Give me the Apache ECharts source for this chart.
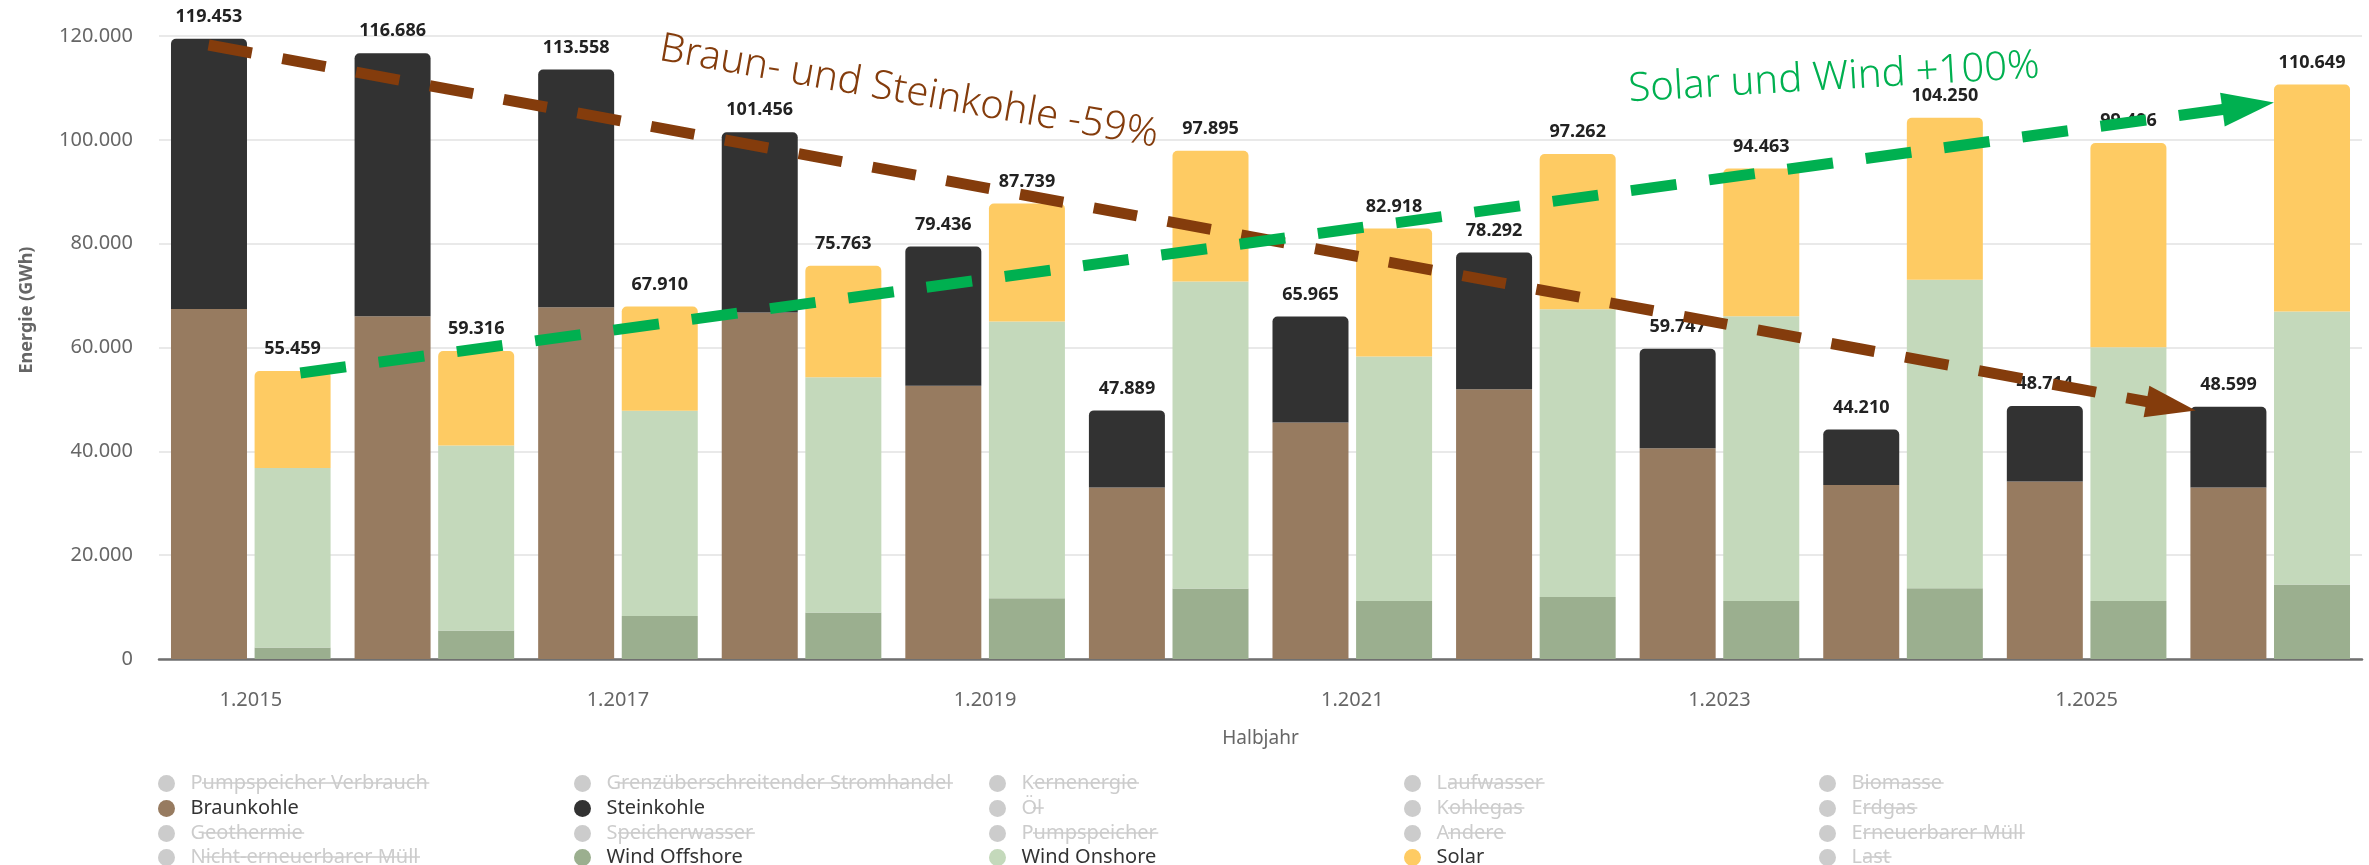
<!DOCTYPE html>
<html>
<head>
<meta charset="utf-8">
<title>Kohle vs. Solar und Wind</title>
<script src="https://cdn.jsdelivr.net/npm/echarts@6/dist/echarts.min.js"></script>
<style>
  html, body { margin: 0; padding: 0; background: #fff; }
  #main { width: 2369px; height: 865px; }
</style>
</head>
<body>
<div id="main"></div>
<script>
// Daten (GWh je Halbjahr)
var categories = ['1.2015', '1.2016', '1.2017', '1.2018', '1.2019', '1.2020',
                  '1.2021', '1.2022', '1.2023', '1.2024', '1.2025', '1.2026'];
var braunkohle   = [67430, 66040, 67770, 66740, 52640, 33030, 45550, 51950, 40600, 33510, 34210, 33030];
var steinkohle   = [52023, 50646, 45788, 34716, 26796, 14859, 20415, 26342, 19147, 10700, 14504, 15569];
var windOffshore = [2215, 5510, 8260, 8960, 11710, 13560, 11150, 11920, 11150, 13640, 11150, 14330];
var windOnshore  = [34595, 35630, 39560, 45330, 53310, 59170, 47130, 55430, 54890, 59430, 48920, 52620];
var solar        = [18649, 18176, 20090, 21473, 22719, 25165, 24638, 29912, 28423, 31180, 39336, 43699];

// Legende, spaltenweise
var legendCols = [
   ['Pumpspeicher Verbrauch', 'Braunkohle', 'Geothermie', 'Nicht-erneuerbarer Müll'],
   ['Grenzüberschreitender Stromhandel', 'Steinkohle', 'Speicherwasser', 'Wind Offshore'],
   ['Kernenergie', 'Öl', 'Pumpspeicher', 'Wind Onshore'],
   ['Laufwasser', 'Kohlegas', 'Andere', 'Solar'],
   ['Biomasse', 'Erdgas', 'Erneuerbarer Müll', 'Last']
];
var activeNames = ['Braunkohle', 'Steinkohle', 'Wind Offshore', 'Wind Onshore', 'Solar'];

// Pfeile (x in Kategorie-Einheiten, y in GWh)
var brownArrowX = [-0.23, 10.46];
var brownArrowY = [118260, 48730];
var greenArrowX = [0.27, 10.88];
var greenArrowY = [55080, 106510];

var FONT = '"Noto Sans", "DejaVu Sans", sans-serif';

function fmt (v) {
   return String(Math.round(v)).replace(/\B(?=(\d{3})+(?!\d))/g, '.');
}

var myChart = echarts.init(document.getElementById('main'));

// Legenden-Layout: eine Legende pro Zelle
var legendCenters = [177, 593, 1008, 1423, 1838];
var rowCenters = [782, 807, 832, 856];
var selectedMap = {};
legendCols.forEach(function (col) {
   col.forEach(function (n) { selectedMap[n] = activeNames.indexOf(n) >= 0; });
});
var legends = [];
legendCols.forEach(function (col, k) {
   col.forEach(function (n, j) {
      legends.push({
         type: 'plain',
         orient: 'horizontal',
         left: legendCenters[k] - 19,
         top: rowCenters[j] - 8.5,
         width: 400,
         height: 40,
         padding: 0,
         itemWidth: 38,
         itemHeight: 17,
         icon: 'circle',
         data: [n],
         selected: selectedMap,
         inactiveColor: '#cccccc',
         textStyle: { fontSize: 20, color: '#333', fontFamily: FONT }
      });
   });
});

// Durchgestrichene inaktive Einträge
function buildStrikes () {
   var measure = document.createElement('canvas').getContext('2d');
   measure.font = 'normal normal 20px ' + FONT;
   var strikes = [];
   legendCols.forEach(function (col, k) {
      col.forEach(function (n, j) {
         if (selectedMap[n]) return;
         var x0 = legendCenters[k] - 19 + 44;
         var w = measure.measureText(n).width - 10;
         var y = rowCenters[j] + 1;
         strikes.push({
            type: 'line', id: 'strike' + k + '_' + j, silent: true,
            shape: { x1: x0, y1: y, x2: x0 + w, y2: y },
            style: { stroke: '#cccccc', lineWidth: 1.6 }
         });
      });
   });
   return strikes;
}

// Dummy-Serien für die ausgeblendeten Einträge
var dummySeries = [];
legendCols.forEach(function (col) {
   col.forEach(function (n) {
      if (activeNames.indexOf(n) < 0) {
         dummySeries.push({ name: n, type: 'line', data: [], color: '#cccccc' });
      }
   });
});

var coalTotal = braunkohle.map(function (v, i) { return v + steinkohle[i]; });
var eeTotal = solar.map(function (v, i) { return v + windOffshore[i] + windOnshore[i]; });

var topLabel = {
   show: true,
   position: 'top',
   distance: 13,
   fontSize: 18,
   fontWeight: 'bold',
   color: '#222',
   fontFamily: FONT
};

function arrowSeries (xs, ys, color, curve, dash, size) {
   return {
      type: 'line',
      xAxisIndex: 1,
      yAxisIndex: 0,
      data: [],
      z: 10,
      silent: true,
      markLine: {
         silent: true,
         animation: false,
         symbol: ['none', 'triangle'],
         symbolSize: size,
         label: { show: false },
         emphasis: { disabled: true },
         lineStyle: { color: color, width: 11, type: dash, curveness: curve, opacity: 1 },
         itemStyle: { color: color },
         data: [[{ coord: [xs[0], ys[0]] }, { coord: [xs[1], ys[1]] }]]
      }
   };
}

var option = {
   animation: false,
   textStyle: { fontFamily: FONT },
   legend: legends,
   grid: { left: 159, right: 7, top: 36, bottom: 206, outerBoundsMode: 'none' },
   xAxis: [
      {
         type: 'category',
         data: categories,
         name: 'Halbjahr',
         nameLocation: 'middle',
         nameGap: 70,
         nameTextStyle: { fontSize: 19, color: '#666' },
         axisLine: { show: true, lineStyle: { color: '#707070', width: 2.5 } },
         axisTick: { show: false },
         axisLabel: { interval: 1, fontSize: 20, color: '#666', margin: 31 },
         splitLine: { show: false }
      },
      { type: 'value', min: -0.5, max: 11.5, show: false }
   ],
   yAxis: {
      type: 'value',
      min: 0,
      max: 120000,
      interval: 20000,
      axisLine: { show: false },
      axisTick: { show: false },
      axisLabel: { fontSize: 20, color: '#666', margin: 26, formatter: fmt },
      splitLine: { lineStyle: { color: '#e9e9e9', width: 2 } }
   },
   series: [
      {
         name: 'Braunkohle', type: 'bar', stack: 'kohle', data: braunkohle,
         color: '#977b60', barWidth: 76, barGap: '10%'
      },
      {
         name: 'Steinkohle', type: 'bar', stack: 'kohle', data: steinkohle,
         color: '#323232', barWidth: 76, barGap: '10%',
         itemStyle: { borderRadius: [5, 5, 0, 0] },
         label: Object.assign({}, topLabel, {
            formatter: function (p) { return fmt(coalTotal[p.dataIndex]); }
         })
      },
      {
         name: 'Wind Offshore', type: 'bar', stack: 'ee', data: windOffshore,
         color: '#9baf8f', barWidth: 76, barGap: '10%'
      },
      {
         name: 'Wind Onshore', type: 'bar', stack: 'ee', data: windOnshore,
         color: '#c4d9bb', barWidth: 76, barGap: '10%'
      },
      {
         name: 'Solar', type: 'bar', stack: 'ee', data: solar,
         color: '#fecb63', barWidth: 76, barGap: '10%',
         itemStyle: { borderRadius: [5, 5, 0, 0] },
         label: Object.assign({}, topLabel, {
            formatter: function (p) { return fmt(eeTotal[p.dataIndex]); }
         })
      },
      arrowSeries(brownArrowX, brownArrowY, '#843c0c', 0.024, [44, 31], [32, 50]),
      arrowSeries(greenArrowX, greenArrowY, '#00b050', 0.064, [46, 33], [34, 52])
   ].concat(dummySeries),
   graphic: [
      {
         type: 'text', id: 'yname', silent: true, x: 27, y: 310, rotation: Math.PI / 2,
         style: {
            text: 'Energie (GWh)', fill: '#666', font: 'bold 18px ' + FONT,
            align: 'center', verticalAlign: 'middle'
         }
      },
      {
         type: 'text', id: 'kohleText', silent: true, x: 909, y: 92, rotation: -0.173, z: 20,
         style: {
            text: 'Braun- und Steinkohle -59%', fill: '#843c0c', font: '300 40px ' + FONT,
            align: 'center', verticalAlign: 'middle'
         }
      },
      {
         type: 'text', id: 'eeText', silent: true, x: 1834, y: 78, rotation: 0.058, z: 20,
         style: {
            text: 'Solar und Wind +100%', fill: '#00b050', font: '300 40px ' + FONT,
            align: 'center', verticalAlign: 'middle'
         }
      }
   ].concat(buildStrikes())
};

myChart.setOption(option);

// nach dem Laden der Schrift neu messen
if (document.fonts && document.fonts.load) {
   document.fonts.load('20px "Noto Sans"').then(function () {
      myChart.setOption({ graphic: buildStrikes() });
   });
}
window.addEventListener('resize', function () {
   myChart.resize();
});
</script>
</body>
</html>
